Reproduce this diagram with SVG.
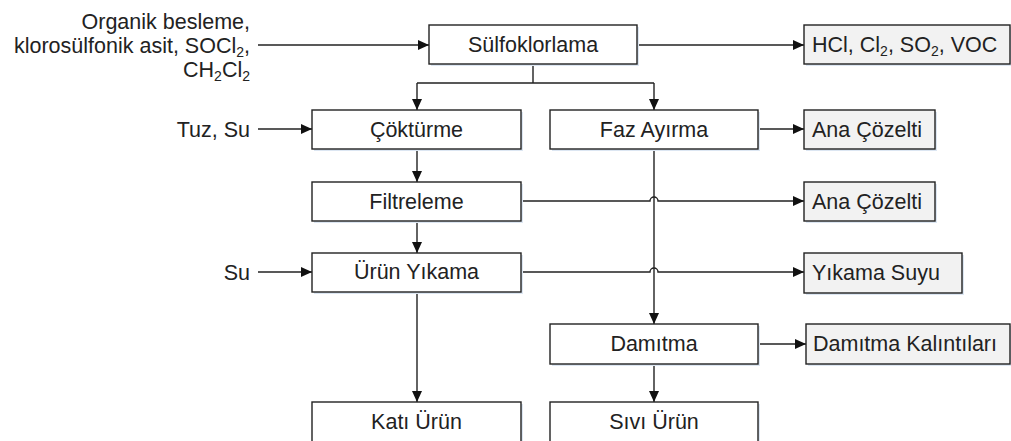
<svg xmlns="http://www.w3.org/2000/svg" width="1011" height="441" viewBox="0 0 1011 441">
<style>
text{font-family:"Liberation Sans",Arial,sans-serif;font-size:21.5px;fill:#222}
.c{text-anchor:middle}
.r{text-anchor:end}
.box{fill:#fff;stroke:#222;stroke-width:1.4}
.gbox{fill:#f2f2f2;stroke:#222;stroke-width:1.4}
.sh{fill:#dce6f2}
.ln{fill:none;stroke:#222;stroke-width:1.4}
.sub{font-size:14px}
</style>
<defs>
<marker id="ah" markerUnits="userSpaceOnUse" markerWidth="11" markerHeight="10" refX="11" refY="5" orient="auto">
<path d="M0,0 L11,5 L0,10 z" fill="#111"/>
</marker>
</defs>
<g id="inputs">
<text class="r" x="250" y="29">Organik besleme,</text>
<text class="r" x="250" y="53">klorosülfonik asit, SOCl<tspan class="sub" dy="4">2</tspan><tspan dy="-4">,</tspan></text>
<text class="r" x="250" y="77">CH<tspan class="sub" dy="4">2</tspan><tspan dy="-4">Cl</tspan><tspan class="sub" dy="4">2</tspan></text>
<text class="r" x="250" y="137">Tuz, Su</text>
<text class="r" x="250" y="280">Su</text>
</g>
<g id="connectors">
<path class="ln" d="M258,45 H429" marker-end="url(#ah)"/>
<path class="ln" d="M637,45 H804" marker-end="url(#ah)"/>
<path class="ln" d="M533,64 V83 M417,83 H654"/>
<path class="ln" d="M417,83 V110" marker-end="url(#ah)"/>
<path class="ln" d="M654,83 V110" marker-end="url(#ah)"/>
<path class="ln" d="M258,129 H312" marker-end="url(#ah)"/>
<path class="ln" d="M417,149 V182" marker-end="url(#ah)"/>
<path class="ln" d="M758,129 H804" marker-end="url(#ah)"/>
<path class="ln" d="M521,201 H650 a4,4 0 0 1 8,0 H804" marker-end="url(#ah)"/>
<path class="ln" d="M417,221 V253" marker-end="url(#ah)"/>
<path class="ln" d="M258,272 H312" marker-end="url(#ah)"/>
<path class="ln" d="M521,272 H650 a4,4 0 0 1 8,0 H804" marker-end="url(#ah)"/>
<path class="ln" d="M654,149 V324" marker-end="url(#ah)"/>
<path class="ln" d="M417,292 V402" marker-end="url(#ah)"/>
<path class="ln" d="M758,344 H806" marker-end="url(#ah)"/>
<path class="ln" d="M654,364 V402" marker-end="url(#ah)"/>
</g>
<g id="sulfoklorlama">
<rect class="sh" x="431" y="27" width="208" height="39"/>
<rect class="box" x="429" y="25" width="208" height="39"/>
<text class="c" x="533" y="52">Sülfoklorlama</text>
</g>
<g id="hcl">
<rect class="sh" x="806" y="27" width="206" height="39"/>
<rect class="gbox" x="804" y="25" width="206" height="39"/>
<text x="812" y="52">HCl, Cl<tspan class="sub" dy="4">2</tspan><tspan dy="-4">, SO</tspan><tspan class="sub" dy="4">2</tspan><tspan dy="-4">, VOC</tspan></text>
</g>
<g id="cokturme">
<rect class="sh" x="314" y="112" width="209" height="39"/>
<rect class="box" x="312" y="110" width="209" height="39"/>
<text class="c" x="416.5" y="137">Çöktürme</text>
</g>
<g id="fazayirma">
<rect class="sh" x="552" y="112" width="208" height="39"/>
<rect class="box" x="550" y="110" width="208" height="39"/>
<text class="c" x="654" y="137">Faz Ayırma</text>
</g>
<g id="anacozelti1">
<rect class="sh" x="806" y="112" width="131" height="39"/>
<rect class="gbox" x="804" y="110" width="131" height="39"/>
<text x="812" y="137">Ana Çözelti</text>
</g>
<g id="filtreleme">
<rect class="sh" x="314" y="184" width="209" height="39"/>
<rect class="box" x="312" y="182" width="209" height="39"/>
<text class="c" x="416.5" y="209">Filtreleme</text>
</g>
<g id="anacozelti2">
<rect class="sh" x="806" y="184" width="131" height="39"/>
<rect class="gbox" x="804" y="182" width="131" height="39"/>
<text x="812" y="209">Ana Çözelti</text>
</g>
<g id="urunyikama">
<rect class="sh" x="314" y="255" width="209" height="39"/>
<rect class="box" x="312" y="253" width="209" height="39"/>
<text class="c" x="416.5" y="279">Ürün Yıkama</text>
</g>
<g id="yikamasuyu">
<rect class="sh" x="806" y="255" width="158" height="40"/>
<rect class="gbox" x="804" y="253" width="158" height="40"/>
<text x="812" y="280">Yıkama Suyu</text>
</g>
<g id="damitma">
<rect class="sh" x="552" y="326" width="208" height="40"/>
<rect class="box" x="550" y="324" width="208" height="40"/>
<text class="c" x="654" y="351">Damıtma</text>
</g>
<g id="damitmakalintilari">
<rect class="sh" x="808" y="326" width="204" height="40"/>
<rect class="gbox" x="806" y="324" width="204" height="40"/>
<text x="813" y="351">Damıtma Kalıntıları</text>
</g>
<g id="katiurun">
<rect class="sh" x="314" y="404" width="209" height="45"/>
<rect class="box" x="312" y="402" width="209" height="45"/>
<text class="c" x="416.5" y="429">Katı Ürün</text>
</g>
<g id="siviurun">
<rect class="sh" x="552" y="404" width="208" height="45"/>
<rect class="box" x="550" y="402" width="208" height="45"/>
<text class="c" x="654" y="429">Sıvı Ürün</text>
</g>
</svg>
